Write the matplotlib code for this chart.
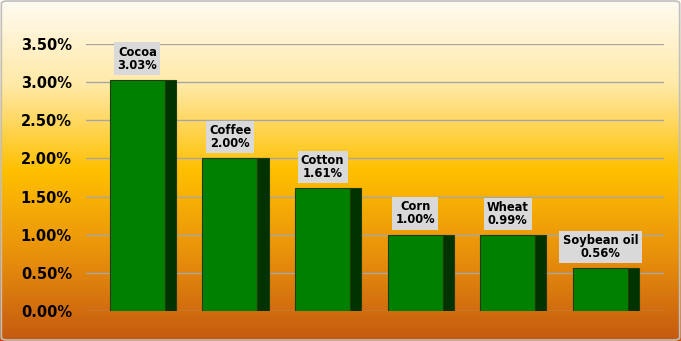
import numpy as np
import matplotlib.pyplot as plt
from matplotlib.colors import LinearSegmentedColormap
from matplotlib.patches import FancyBboxPatch

commodities = ['Cocoa', 'Coffee', 'Cotton', 'Corn', 'Wheat', 'Soybean oil']
values = [3.03, 2.00, 1.61, 1.00, 0.99, 0.56]
yticks = [0.0, 0.5, 1.0, 1.5, 2.0, 2.5, 3.0, 3.5]

fig = plt.figure(figsize=(6.81, 3.41), dpi=100)

# gradient background
bg = fig.add_axes([0, 0, 1, 1], zorder=-2)
cmap = LinearSegmentedColormap.from_list('bg', [
    (0.0, '#fffbf2'), (0.25, '#ffe9a6'), (0.5, '#ffc000'),
    (0.75, '#e8900c'), (1.0, '#c55a11')])
grad = np.linspace(0, 1, 256).reshape(-1, 1)
bg.imshow(grad, aspect='auto', cmap=cmap, extent=[0, 1, 0, 1])
bg.set_axis_off()
fig.patches.append(FancyBboxPatch((0.002, 0.003), 0.996, 0.994, boxstyle='round,pad=0,rounding_size=0.008',
                                  transform=fig.transFigure, fill=False, ec='#bfbfbf', lw=1.2))

ax = fig.add_axes([0.126, 0.088, 0.849, 0.783])
ax.patch.set_alpha(0)
x = np.arange(len(commodities))
front_w = 0.594
side_w = 0.119
left = x - (front_w + side_w) / 2
ax.bar(left + front_w / 2, values, width=front_w, color='#008000', edgecolor='#1f3d0c', lw=0.8, zorder=3)
ax.bar(left + front_w + side_w / 2, values, width=side_w, color='#003300', edgecolor='#1f3d0c', lw=0.8, zorder=3)

for xi, v, name in zip(left + front_w / 2, values, commodities):
    ax.annotate(f'{name}\n{v:.2f}%', (xi, v), xytext=(0, 6), textcoords='offset points',
                ha='center', va='bottom', fontsize=8.3, fontweight='bold', linespacing=1.0,
                bbox=dict(boxstyle='square,pad=0.28', fc='#d9d9d9', ec='none'), zorder=5,
                annotation_clip=False)

ax.set_ylim(0, 3.5)
ax.set_xlim(-0.616, 5.626)
ax.set_yticks(yticks)
ax.set_yticklabels([f'{t:.2f}%' for t in yticks], fontsize=10.5, fontweight='bold')
ax.set_xticks([])
ax.yaxis.grid(True, color='#a6a6a6', lw=1, zorder=0)
ax.tick_params(axis='y', length=0, pad=10)
for s in ax.spines.values():
    s.set_visible(False)

fig.savefig('out.png', dpi=100)
